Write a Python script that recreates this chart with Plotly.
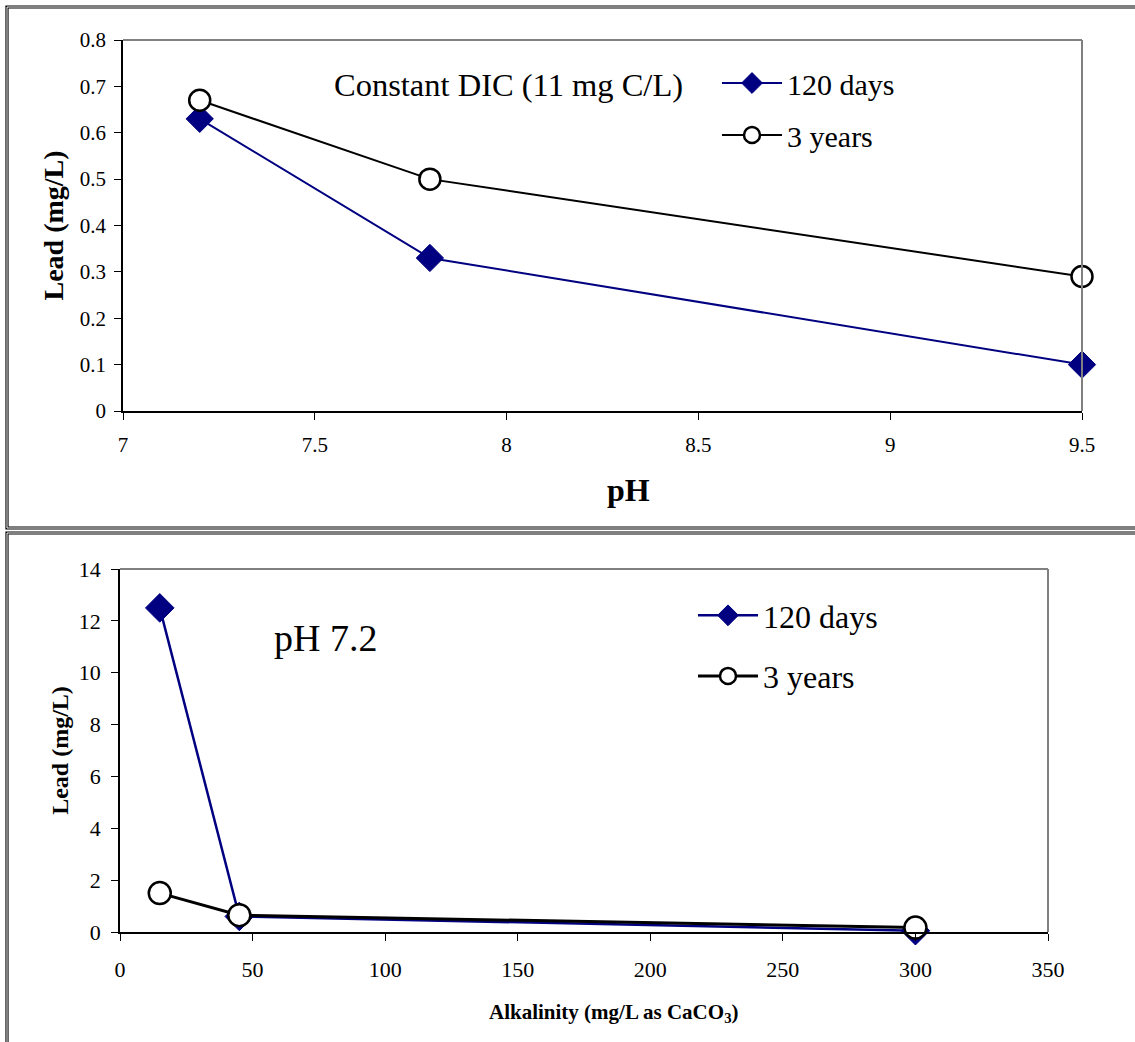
import plotly.graph_objects as go

W, H = 1135, 1042

# ---- data ----
ph_values = [7.2, 7.8, 9.5]
lead_ph_120d = [0.63, 0.33, 0.10]
lead_ph_3yr = [0.67, 0.50, 0.29]

alk_values = [15, 45, 300]
lead_alk_120d = [12.5, 0.60, 0.05]
lead_alk_3yr = [1.5, 0.65, 0.17]

series_names = ["120 days", "3 years"]
top_note = "Constant DIC (11 mg C/L)"
bottom_note = "pH 7.2"

FONT = "Liberation Serif, Times New Roman, serif"
NAVY = "#000080"

def px_x(p):
    return p / W

def px_y(p):
    return 1 - p / H

fig = go.Figure()

# top chart
fig.add_trace(go.Scatter(
    x=ph_values, y=lead_ph_120d, name=series_names[0], mode="lines+markers",
    line=dict(color=NAVY, width=2),
    marker=dict(symbol="diamond", size=21, color=NAVY, line=dict(color=NAVY, width=1)),
    xaxis="x", yaxis="y", legend="legend", legendgroup="a1", cliponaxis=False))
fig.add_trace(go.Scatter(
    x=ph_values, y=lead_ph_3yr, name=series_names[1], mode="lines+markers",
    line=dict(color="black", width=2),
    marker=dict(symbol="circle", size=21, color="white", line=dict(color="black", width=2.5)),
    xaxis="x", yaxis="y", legend="legend", legendgroup="a2", cliponaxis=False))

# bottom chart
fig.add_trace(go.Scatter(
    x=alk_values, y=lead_alk_120d, name=series_names[0], mode="lines+markers",
    line=dict(color=NAVY, width=2.5),
    marker=dict(symbol="diamond", size=22, color=NAVY, line=dict(color=NAVY, width=1)),
    xaxis="x2", yaxis="y2", legend="legend2", legendgroup="b1", cliponaxis=False))
fig.add_trace(go.Scatter(
    x=alk_values, y=lead_alk_3yr, name=series_names[1], mode="lines+markers",
    line=dict(color="black", width=3),
    marker=dict(symbol="circle", size=22, color="white", line=dict(color="black", width=2.5)),
    xaxis="x2", yaxis="y2", legend="legend2", legendgroup="b2", cliponaxis=False))

axis_common = dict(
    showgrid=False, zeroline=False, showline=True, linecolor="black", linewidth=1.5,
    ticks="outside", ticklen=7, tickcolor="black", tickwidth=1, automargin=False,
)

fig.update_layout(
    width=W, height=H,
    margin=dict(l=0, r=0, t=0, b=0, pad=0, autoexpand=False),
    paper_bgcolor="white", plot_bgcolor="white",
    font=dict(family=FONT, color="black"),
    xaxis=dict(domain=[px_x(123), px_x(1082)], range=[7, 9.5], dtick=0.5,
               anchor="y", tickfont=dict(size=21), ticklabelstandoff=7, **axis_common),
    yaxis=dict(domain=[px_y(411), px_y(40)], range=[0, 0.8], dtick=0.1,
               anchor="x", tickfont=dict(size=21), ticklabelstandoff=4,
               title=dict(text="<b>Lead (mg/L)</b>", font=dict(size=28), standoff=8),
               **axis_common),
    xaxis2=dict(domain=[px_x(120), px_x(1048)], range=[0, 350], dtick=50,
                anchor="y2", tickfont=dict(size=22), ticklabelstandoff=10, **axis_common),
    yaxis2=dict(domain=[px_y(932), px_y(569)], range=[0, 14], dtick=2,
                anchor="x2", tickfont=dict(size=22), ticklabelstandoff=6,
                title=dict(text="<b>Lead (mg/L)</b>", font=dict(size=24), standoff=3),
                **axis_common),
    legend=dict(x=px_x(717), y=px_y(57), xanchor="left", yanchor="top",
                font=dict(size=30, family=FONT), bgcolor="rgba(0,0,0,0)",
                itemwidth=60, tracegroupgap=10, traceorder="grouped"),
    legend2=dict(x=px_x(693), y=px_y(588), xanchor="left", yanchor="top",
                 font=dict(size=32, family=FONT), bgcolor="rgba(0,0,0,0)",
                 itemwidth=60, tracegroupgap=16, traceorder="grouped"),
    showlegend=True,
)

# annotations: notes and x-axis titles
fig.add_annotation(text=top_note, x=px_x(508), y=px_y(85), xref="paper", yref="paper",
                   showarrow=False, font=dict(size=32.5, family=FONT), xanchor="center", yanchor="middle")
fig.add_annotation(text=bottom_note, x=px_x(325), y=px_y(638), xref="paper", yref="paper",
                   showarrow=False, font=dict(size=38, family=FONT), xanchor="center", yanchor="middle")
fig.add_annotation(text="<b>pH</b>", x=px_x(628), y=px_y(490), xref="paper", yref="paper",
                   showarrow=False, font=dict(size=32, family=FONT), xanchor="center", yanchor="middle")
fig.add_annotation(text="<b>Alkalinity (mg/L as CaCO<sub>3</sub>)</b>", x=px_x(613), y=px_y(1013),
                   xref="paper", yref="paper", showarrow=False, font=dict(size=21, family=FONT),
                   xanchor="center", yanchor="middle")

shapes = []
# gray top/right frame of each plot area
for xr, yr in (("x domain", "y domain"), ("x2 domain", "y2 domain")):
    shapes.append(dict(type="line", xref=xr, yref=yr, x0=0, x1=1, y0=1, y1=1,
                       line=dict(color="#808080", width=2)))
    shapes.append(dict(type="line", xref=xr, yref=yr, x0=1, x1=1, y0=0, y1=1,
                       line=dict(color="#808080", width=2)))
# double-line outer boxes
for (x0, y0, x1, y1) in ((7, 7, 1145, 528), (7, 533, 1145, 1060)):
    shapes.append(dict(type="rect", xref="paper", yref="paper",
                       x0=px_x(x0), x1=px_x(x1), y0=px_y(y1), y1=px_y(y0),
                       line=dict(color="black", width=3.2)))
    shapes.append(dict(type="rect", xref="paper", yref="paper",
                       x0=px_x(x0), x1=px_x(x1), y0=px_y(y1), y1=px_y(y0),
                       line=dict(color="white", width=1)))
fig.update_layout(shapes=shapes)

fig.write_html("out.html", config={"displayModeBar": False, "responsive": False},
               post_script="document.body.style.margin='0';document.body.style.overflow='hidden';")
